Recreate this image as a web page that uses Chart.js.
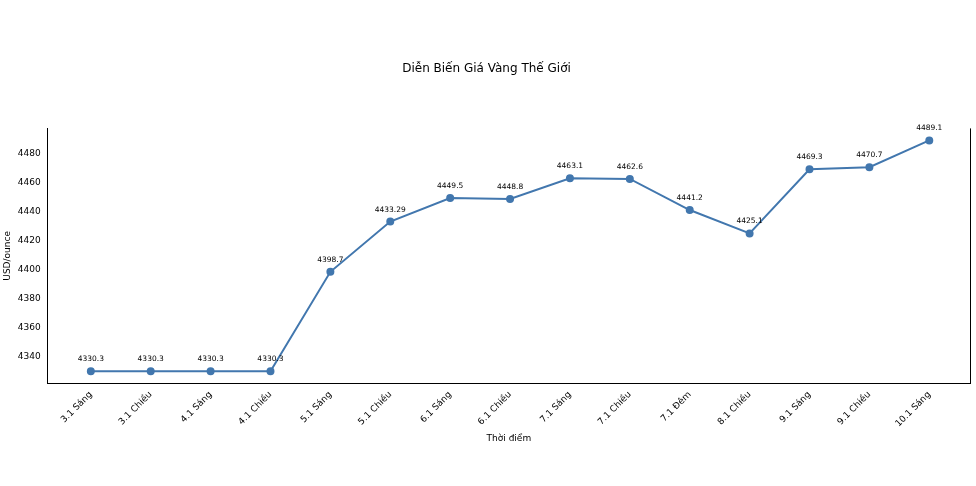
<!DOCTYPE html>
<html><head><meta charset="utf-8">
<script src="https://cdn.jsdelivr.net/npm/chart.js@4"></script>
<style>body{margin:0;background:#fff}#wrap{width:976px;height:486px;position:relative}</style>
</head><body><div id="wrap"><canvas id="c"></canvas></div>
<script>
const categories = ['3.1 Sáng','3.1 Chiều','4.1 Sáng','4.1 Chiều','5.1 Sáng','5.1 Chiều','6.1 Sáng','6.1 Chiều','7.1 Sáng','7.1 Chiều','7.1 Đêm','8.1 Chiều','9.1 Sáng','9.1 Chiều','10.1 Sáng'];
const prices = [4330.3,4330.3,4330.3,4330.3,4398.7,4433.29,4449.5,4448.8,4463.1,4462.6,4441.2,4425.1,4469.3,4470.7,4489.1];
const priceLabels = ['4330.3','4330.3','4330.3','4330.3','4398.7','4433.29','4449.5','4448.8','4463.1','4462.6','4441.2','4425.1','4469.3','4470.7','4489.1'];
const yTicks = [4340,4360,4380,4400,4420,4440,4460,4480];

Chart.defaults.font.family = 'DejaVu Sans';
Chart.defaults.color = '#000';

// little value labels above each point
const pointLabels = {
    id: 'pointLabels',
    afterDatasetsDraw(chart) {
        const ctx = chart.ctx;
        const meta = chart.getDatasetMeta(0);
        ctx.save();
        ctx.font = '7.5px DejaVu Sans';
        ctx.fillStyle = '#000';
        ctx.textAlign = 'center';
        meta.data.forEach((p, i) => ctx.fillText(priceLabels[i], p.x, p.y - 10));
        ctx.restore();
    }
};
// right spine
const rightSpine = {
    id: 'rightSpine',
    afterDraw(chart) {
        const a = chart.chartArea, ctx = chart.ctx;
        ctx.save();
        ctx.strokeStyle = '#000'; ctx.lineWidth = 1;
        ctx.beginPath(); ctx.moveTo(a.right + 0.5, a.top); ctx.lineTo(a.right + 0.5, a.bottom); ctx.stroke();
        ctx.restore();
    }
};

new Chart(document.getElementById('c'), {
    type: 'line',
    data: {
        datasets: [{
            data: prices.map((v, i) => ({x: i, y: v})),
            borderColor: '#4277ae',
            backgroundColor: '#4277ae',
            borderWidth: 2,
            pointRadius: 3,
            tension: 0
        }]
    },
    options: {
        responsive: true,
        maintainAspectRatio: false,
        animation: false,
        layout: { padding: { left: 0, right: 3, top: 0, bottom: 40 } },
        plugins: {
            legend: { display: false },
            tooltip: { enabled: false },
            title: { display: true, text: 'Diễn Biến Giá Vàng Thế Giới', font: { size: 12, weight: 'normal' }, padding: { top: 62, bottom: 52 } }
        },
        scales: {
            x: {
                type: 'linear', min: -0.72, max: 14.68,
                afterBuildTicks: s => { s.ticks = categories.map((c, i) => ({value: i})); },
                ticks: { callback: v => categories[v], maxRotation: 45, minRotation: 45, font: { size: 9 }, padding: 2 },
                grid: { display: false, tickLength: 4 },
                border: { color: '#000' },
                title: { display: true, text: 'Thời điểm', font: { size: 9 }, padding: 2 }
            },
            y: {
                min: 4321.9, max: 4497.4,
                afterBuildTicks: s => { s.ticks = yTicks.map(v => ({value: v})); },
                ticks: { callback: v => String(v), font: { size: 9 }, padding: 3 },
                grid: { display: false, tickLength: 4 },
                border: { color: '#000' },
                title: { display: true, text: 'USD/ounce', font: { size: 9 }, padding: 2 }
            }
        }
    },
    plugins: [pointLabels, rightSpine]
});
</script></body></html>
